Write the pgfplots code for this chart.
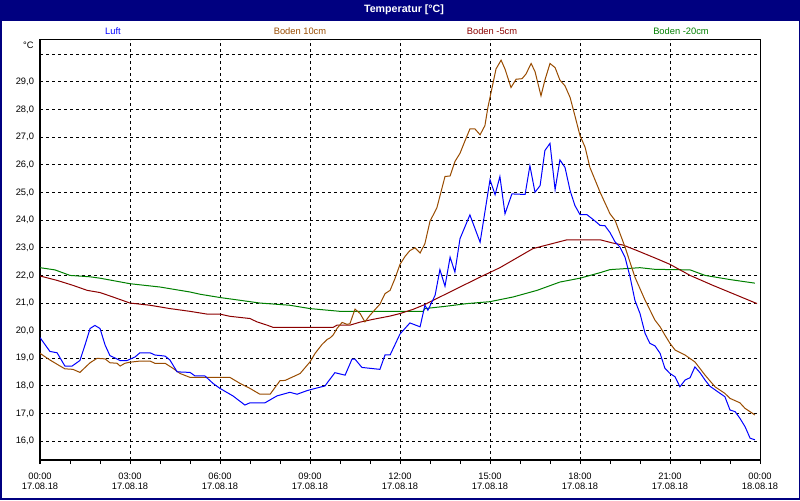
\documentclass[border=0pt]{standalone}
\usepackage{fontspec}
\setmainfont{Liberation Sans}
\usepackage{pgfplots}
\pgfplotsset{compat=1.18}
\definecolor{navy}{RGB}{0,0,128}
\definecolor{luft}{RGB}{0,0,255}
\definecolor{bzehn}{RGB}{153,76,0}
\definecolor{bfuenf}{RGB}{140,0,0}
\definecolor{bzwanzig}{RGB}{0,128,0}

\begin{document}
\fontsize{7}{10.3}\selectfont
\begin{tikzpicture}[x=0.75pt,y=0.75pt]
  % frame and title bar
  \fill[navy] (0,0) rectangle (800,500);
  \fill[white] (1.5,2) rectangle (798.5,479);
  \node[white,font=\bfseries\fontsize{8}{9.6}\selectfont] at (404,490) {Temperatur [°C]};
  % series names
  \node[luft] at (113,469) {Luft};
  \node[bzehn] at (300,469) {Boden 10cm};
  \node[bfuenf] at (492,469) {Boden -5cm};
  \node[bzwanzig] at (681,469) {Boden -20cm};
  \node[anchor=east] at (37,455) {°C};

  \begin{axis}[at={(30pt,30pt)},anchor=south west,scale only axis,
    width=540pt,height=315pt,
    xmin=0,xmax=24,ymin=15.32,ymax=30.52,
    axis line style={black,line width=0.75pt},
    tick pos=left,tick align=outside,
    xtick={0,3,...,24},minor x tick num=2,
    major tick length=3pt,minor tick length=3pt,
    every tick/.style={black,line width=0.75pt},
    xticklabels={{00:00\\17.08.18},{03:00\\17.08.18},{06:00\\17.08.18},
      {09:00\\17.08.18},{12:00\\17.08.18},{15:00\\17.08.18},
      {18:00\\17.08.18},{21:00\\17.08.18},{00:00\\18.08.18}},
    xticklabel style={align=center,font=\fontsize{7}{8}\selectfont,yshift=-4pt},
    ytick={16,...,29},
    yticklabel={\pgfmathprintnumber[fixed,fixed zerofill,precision=1,use comma,assume math mode=true]{\tick}},
    ytick style={draw=none},
    yticklabel style={xshift=1pt},
    extra y ticks={30},extra y tick labels={},
    extra y tick style={grid=major,ytick style={draw=none}},
    xmajorgrids,ymajorgrids,
    grid style={black,line width=0.75pt,dash pattern=on 2.5pt off 2pt},
    every axis plot/.append style={line width=0.75pt,mark=none},
  ]
  % Boden -20cm
  \addplot[bzwanzig] table {
  h v
  0 22.28
  0.5 22.2
  1.0 22.0
  1.67 21.95
  2.0 21.9
  3.0 21.7
  4.0 21.58
  5.0 21.4
  5.33 21.32
  6.0 21.2
  6.67 21.1
  7.33 21.0
  8.33 20.92
  9.0 20.8
  10.0 20.7
  12.77 20.7
  12.83 20.8
  13.5 20.88
  14.23 20.98
  15.0 21.05
  15.77 21.22
  16.57 21.46
  17.33 21.76
  18.0 21.9
  18.67 22.1
  19.0 22.21
  20.0 22.28
  20.5 22.22
  21.67 22.2
  22.17 22.0
  23.0 21.85
  23.83 21.72
  };
  % Boden -5cm
  \addplot[bfuenf] table {
  h v
  0 21.98
  0.57 21.82
  1.1 21.64
  1.57 21.46
  2.0 21.38
  2.43 21.22
  3.0 21.0
  3.67 20.92
  4.33 20.8
  5.0 20.7
  5.57 20.6
  6.0 20.6
  6.33 20.52
  7.0 20.44
  7.23 20.32
  7.57 20.2
  7.77 20.12
  9.77 20.12
  9.9 20.2
  10.33 20.2
  10.67 20.31
  11.1 20.41
  11.67 20.53
  12.0 20.62
  12.43 20.77
  12.77 20.92
  13.33 21.22
  14.0 21.58
  14.67 21.94
  15.33 22.28
  16.43 22.97
  17.57 23.29
  18.67 23.29
  19.1 23.17
  19.43 23.1
  19.9 22.9
  20.57 22.6
  21.0 22.4
  21.67 22.0
  22.43 21.64
  23.1 21.34
  23.9 20.98
  };
  % Boden 10cm
  \addplot[bzehn] table {
  h v
  0 19.18
  0.33 18.94
  0.67 18.72
  0.83 18.62
  1.1 18.6
  1.33 18.49
  1.67 18.84
  1.9 19.0
  2.17 18.98
  2.33 18.84
  2.57 18.82
  2.67 18.72
  2.83 18.82
  3.0 18.86
  3.33 18.9
  3.67 18.9
  3.83 18.82
  4.17 18.82
  4.43 18.64
  4.67 18.45
  5.0 18.31
  6.33 18.31
  6.67 18.09
  7.0 17.91
  7.33 17.7
  7.67 17.7
  8.0 18.19
  8.17 18.2
  8.43 18.33
  8.67 18.45
  9.0 18.87
  9.17 19.18
  9.4 19.5
  9.57 19.68
  9.67 19.74
  9.77 19.84
  9.9 20.08
  10.07 20.3
  10.23 20.23
  10.33 20.25
  10.5 20.78
  10.67 20.62
  10.83 20.32
  11.0 20.56
  11.33 20.96
  11.5 21.34
  11.67 21.46
  11.83 21.88
  12.0 22.4
  12.17 22.69
  12.33 22.9
  12.5 23.0
  12.67 22.81
  12.83 23.15
  13.0 23.96
  13.23 24.45
  13.5 25.58
  13.67 25.6
  13.83 26.12
  14.0 26.42
  14.17 26.88
  14.33 27.3
  14.5 27.3
  14.67 27.09
  14.83 27.42
  14.93 28.08
  15.07 28.8
  15.2 29.47
  15.37 29.79
  15.5 29.47
  15.7 28.8
  15.87 29.1
  16.07 29.12
  16.2 29.29
  16.37 29.67
  16.5 29.38
  16.7 28.5
  16.83 29.07
  17.0 29.67
  17.17 29.52
  17.33 29.07
  17.5 28.86
  17.67 28.44
  17.83 27.78
  18.0 27.06
  18.17 26.64
  18.33 25.91
  18.67 25.01
  19.0 24.23
  19.17 23.99
  19.5 23.03
  19.83 21.94
  20.17 21.1
  20.5 20.38
  20.67 20.14
  20.83 19.84
  21.0 19.54
  21.17 19.3
  21.5 19.12
  21.83 18.87
  22.17 18.39
  22.5 17.97
  22.83 17.73
  23.0 17.55
  23.33 17.39
  23.5 17.19
  23.83 16.95
  };
  % Luft
  \addplot[luft] table {
  h v
  0 19.75
  0.33 19.25
  0.57 19.2
  0.83 18.72
  1.07 18.72
  1.33 18.92
  1.5 19.48
  1.67 20.08
  1.83 20.19
  2.0 20.08
  2.17 19.48
  2.33 19.1
  2.67 18.92
  2.9 18.92
  3.17 19.05
  3.33 19.2
  3.67 19.2
  3.83 19.12
  4.17 19.08
  4.33 18.94
  4.57 18.51
  5.0 18.49
  5.17 18.36
  5.5 18.36
  5.77 18.09
  6.0 17.91
  6.43 17.64
  6.83 17.31
  7.0 17.39
  7.5 17.39
  7.9 17.64
  8.33 17.77
  8.57 17.7
  8.9 17.83
  9.17 17.91
  9.5 18.0
  9.6 18.15
  9.83 18.48
  10.17 18.39
  10.4 18.97
  10.5 18.97
  10.73 18.67
  11.33 18.6
  11.5 19.12
  11.67 19.12
  12.0 19.88
  12.33 20.28
  12.67 20.14
  12.83 20.92
  12.93 20.74
  13.17 21.28
  13.33 22.21
  13.5 21.61
  13.67 22.66
  13.83 22.12
  14.0 23.33
  14.33 24.19
  14.67 23.2
  15.0 25.46
  15.17 24.92
  15.33 25.58
  15.5 24.23
  15.73 24.95
  16.17 24.93
  16.33 25.97
  16.5 25.01
  16.67 25.25
  16.83 26.52
  17.0 26.78
  17.17 25.1
  17.33 26.18
  17.5 25.91
  17.67 25.07
  17.83 24.53
  18.0 24.2
  18.23 24.2
  18.5 23.97
  18.67 23.81
  18.83 23.8
  19.0 23.55
  19.17 23.21
  19.33 23.03
  19.5 22.66
  19.67 21.94
  19.83 21.1
  20.0 20.62
  20.17 19.9
  20.33 19.54
  20.5 19.45
  20.67 19.18
  20.83 18.64
  21.0 18.45
  21.17 18.33
  21.33 17.97
  21.5 18.21
  21.67 18.3
  21.83 18.69
  22.0 18.48
  22.17 18.21
  22.33 17.99
  22.67 17.73
  22.83 17.61
  23.0 17.13
  23.17 17.07
  23.33 16.83
  23.5 16.53
  23.67 16.11
  23.83 16.05
  };
  \end{axis}
\end{tikzpicture}
\end{document}
